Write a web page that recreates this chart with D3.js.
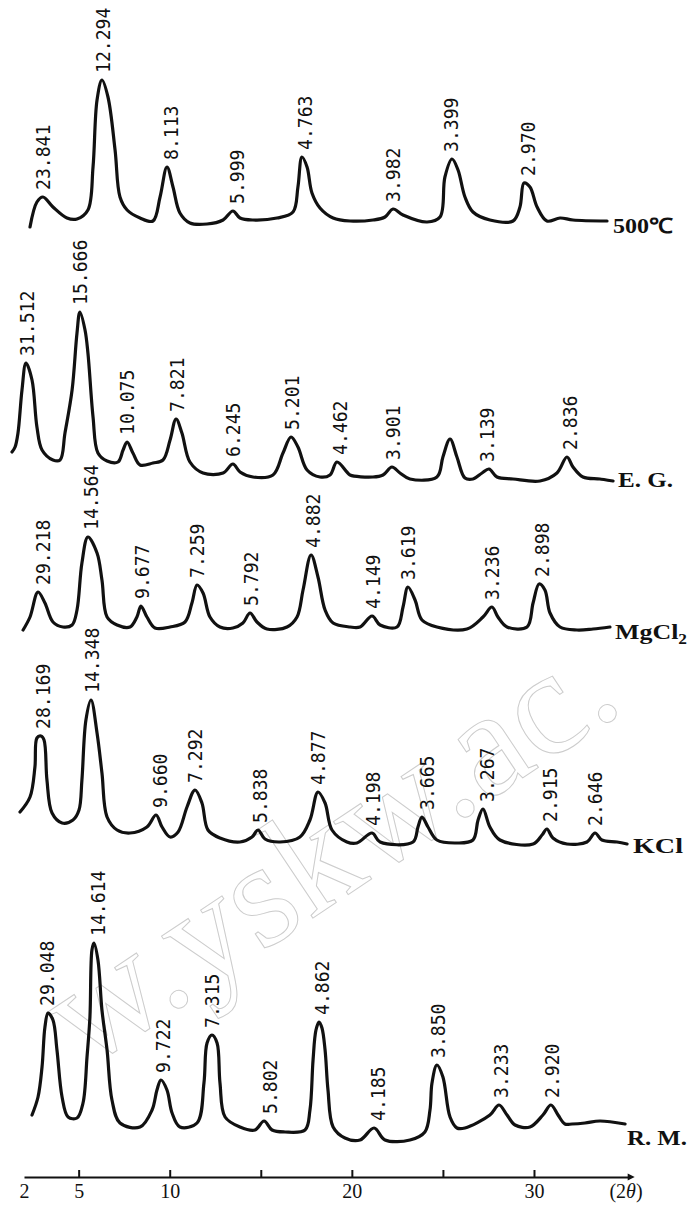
<!DOCTYPE html>
<html>
<head>
<meta charset="utf-8">
<script src="https://d3js.org/d3.v7.min.js"></script>
<style>
  body { margin: 0; background: #fff; }
  svg { display: block; }
</style>
</head>
<body>
<svg id="grafico"></svg>
<script>
// curvas de difracao: [2theta, intensidade relativa]
const curva500 = [[2.33,3],[2.71,28],[3.04,33],[3.59,23],[4.36,12],[4.91,11],[5.51,20],[5.79,63],[6.01,130],[6.28,150],[6.61,133],[7.00,80],[7.27,33],[7.66,20],[8.37,12],[9.08,9],[9.47,33],[9.85,63],[10.18,43],[10.56,17],[11.11,7],[12.05,6],[12.93,10],[13.47,19],[13.86,12],[14.57,10],[15.89,12],[16.77,18],[17.04,43],[17.26,73],[17.54,63],[17.81,37],[18.25,22],[18.97,12],[19.90,9],[21.16,10],[21.82,13],[22.26,21],[22.81,15],[24.13,8],[24.84,13],[25.11,53],[25.50,71],[25.83,60],[26.21,33],[26.65,18],[27.58,10],[28.85,9],[29.23,23],[29.45,47],[29.78,43],[30.17,23],[30.71,9],[31.43,12],[32.14,10],[34.01,9]];

const curvaEG = [[1.34,33],[1.51,38],[1.67,52],[1.89,95],[2.11,122],[2.44,105],[2.71,58],[2.99,35],[3.59,25],[3.98,25],[4.25,52],[4.64,95],[4.91,152],[5.07,173],[5.35,155],[5.51,132],[5.79,68],[6.06,32],[6.56,24],[7.16,23],[7.44,35],[7.66,43],[7.98,32],[8.37,20],[9.08,22],[9.63,25],[10.02,45],[10.35,66],[10.67,52],[11.11,23],[11.83,12],[12.93,12],[13.47,21],[13.86,13],[14.57,8],[15.67,10],[16.22,32],[16.66,48],[17.04,38],[17.54,15],[18.25,8],[18.80,10],[19.18,23],[19.73,13],[19.90,10],[21.16,8],[21.71,10],[22.20,18],[22.64,12],[23.19,6],[24.67,8],[25.00,28],[25.39,46],[25.77,28],[26.21,7],[26.65,6],[27.15,12],[27.53,16],[27.97,8],[28.85,6],[30.33,4],[31.26,12],[31.81,28],[32.14,18],[32.69,8],[33.62,6],[34.34,4]];

const curvaMgCl2 = [[1.95,5],[2.33,18],[2.77,43],[3.15,32],[3.59,13],[4.14,8],[4.64,10],[4.91,25],[5.18,72],[5.51,98],[6.01,82],[6.28,55],[6.56,18],[7.11,10],[7.82,8],[8.20,18],[8.42,29],[8.75,18],[9.19,7],[10.02,8],[10.84,13],[11.22,32],[11.50,50],[11.83,42],[12.21,18],[12.76,8],[13.47,7],[14.02,12],[14.41,22],[14.79,13],[15.34,6],[16.44,8],[16.99,18],[17.32,45],[17.76,80],[18.14,58],[18.53,25],[18.97,12],[19.90,8],[20.45,8],[21.11,19],[21.55,10],[22.48,8],[22.81,28],[23.08,48],[23.47,35],[23.85,15],[24.67,8],[26.32,6],[27.20,18],[27.69,28],[28.02,18],[28.52,8],[29.62,8],[29.95,32],[30.28,51],[30.60,45],[30.88,22],[31.43,8],[32.36,5],[33.24,6],[34.17,8]];

const curvaKCl = [[1.78,38],[2.33,53],[2.60,83],[2.71,112],[2.93,114],[3.10,110],[3.26,70],[3.54,37],[4.09,27],[4.69,30],[5.02,40],[5.18,70],[5.40,130],[5.68,150],[6.01,117],[6.28,77],[6.56,33],[7.11,20],[7.82,17],[8.75,23],[9.25,35],[9.58,23],[10.02,13],[10.46,18],[10.95,43],[11.39,60],[11.77,47],[12.10,20],[12.76,12],[13.86,8],[14.52,13],[14.85,20],[15.23,11],[16.06,8],[17.15,13],[17.70,30],[18.14,58],[18.53,47],[18.91,20],[19.73,8],[20.28,7],[21.11,17],[21.55,8],[23.36,8],[23.63,23],[23.85,33],[24.18,23],[24.67,10],[25.77,7],[26.65,10],[26.93,30],[27.20,41],[27.58,23],[28.13,10],[29.95,6],[30.44,15],[30.71,21],[31.04,12],[31.81,6],[32.91,8],[33.35,17],[33.73,10],[34.56,8],[35.11,6]];

const curvaRM = [[2.44,30],[2.77,48],[2.99,78],[3.15,118],[3.32,132],[3.59,125],[3.81,95],[4.09,48],[4.42,28],[4.91,27],[5.24,42],[5.46,88],[5.62,128],[5.73,195],[5.84,202],[6.06,185],[6.28,135],[6.56,95],[6.83,45],[7.27,22],[8.37,18],[9.03,35],[9.30,55],[9.52,65],[9.85,55],[10.13,32],[10.56,18],[11.50,22],[11.88,62],[12.05,102],[12.32,110],[12.60,102],[12.76,62],[13.04,28],[13.86,18],[14.68,15],[15.18,24],[15.62,15],[16.33,13],[17.43,15],[17.70,35],[17.87,85],[18.03,115],[18.20,123],[18.36,117],[18.53,95],[18.69,55],[18.97,18],[19.62,7],[20.45,5],[21.22,17],[21.82,5],[23.19,5],[24.01,13],[24.29,35],[24.40,62],[24.67,80],[25.00,68],[25.39,28],[25.77,17],[26.21,17],[27.58,30],[28.08,40],[28.52,30],[28.96,20],[29.78,18],[30.49,30],[30.93,40],[31.32,30],[31.70,21],[32.09,21],[32.80,22],[33.62,24],[35.00,21]];

// valores d (angstrom) marcados sobre os picos: [2theta, texto]
const rotulos500 = [[3.04,'23.841'],[6.34,'12.294'],[10.07,'8.113'],[13.69,'5.999'],[17.43,'4.763'],[22.26,'3.982'],[25.45,'3.399'],[29.67,'2.970']];
const rotulosEG = [[2.16,'31.512'],[5.07,'15.666'],[7.66,'10.075'],[10.40,'7.821'],[13.47,'6.245'],[16.71,'5.201'],[19.35,'4.462'],[22.26,'3.901'],[27.42,'3.139'],[31.98,'2.836']];
const rotulosMgCl2 = [[3.04,'29.218'],[5.68,'14.564'],[8.48,'9.677'],[11.50,'7.259'],[14.46,'5.792'],[17.87,'4.882'],[21.16,'4.149'],[23.08,'3.619'],[27.69,'3.236'],[30.44,'2.898']];
const rotulosKCl = [[3.04,'28.169'],[5.73,'14.348'],[9.47,'9.660'],[11.39,'7.292'],[14.96,'5.838'],[18.14,'4.877'],[21.16,'4.198'],[24.13,'3.665'],[27.42,'3.267'],[30.88,'2.915'],[33.35,'2.646']];
const rotulosRM = [[3.26,'29.048'],[6.06,'14.614'],[9.63,'9.722'],[12.32,'7.315'],[15.51,'5.802'],[18.36,'4.862'],[21.44,'4.185'],[24.73,'3.850'],[28.19,'3.233'],[30.99,'2.920']];

const ticksX = [2, 5, 10, 15, 20, 25, 30];
const textosTicksX = ['2', '5', '10', '', '20', '', '30'];

const largura = 691, altura = 1206;
const svg = d3.select('#grafico')
    .attr('width', largura)
    .attr('height', altura);

const fnX = d3.scaleLinear().domain([2, 35.2]).range([24, 628.7]);

// marca d'agua
svg.append('text')
    .attr('transform', 'translate(85,1070) rotate(-33.7)')
    .attr('font-family', 'Liberation Serif')
    .attr('font-size', 150)
    .attr('fill', 'none')
    .attr('stroke', '#cccccc')
    .attr('stroke-width', 1)
    .text('w.yskw.ac.');

const paineis = [
    { nome: '500℃', curva: curva500, rotulos: rotulos500, base: 230, nx: 613, ny: 226, nl: 60 },
    { nome: 'E. G.', curva: curvaEG, rotulos: rotulosEG, base: 485, nx: 618, ny: 480, nl: 55 },
    { nome: 'MgCl', sub: '2', curva: curvaMgCl2, rotulos: rotulosMgCl2, base: 635, nx: 615, ny: 632, nl: 72 },
    { nome: 'KCl', curva: curvaKCl, rotulos: rotulosKCl, base: 850, nx: 633, ny: 846, nl: 50 },
    { nome: 'R. M.', curva: curvaRM, rotulos: rotulosRM, base: 1145, nx: 627, ny: 1138, nl: 60 }
];

paineis.forEach((p) => {
    const fnY = d3.scaleLinear().domain([0, 200]).range([p.base, p.base - 200]);
    const linha = d3.line()
        .x((d) => fnX(d[0]))
        .y((d) => fnY(d[1]))
        .curve(d3.curveCatmullRom.alpha(0.5));

    const g = svg.append('g');
    g.append('path')
        .datum(p.curva)
        .attr('d', linha)
        .attr('fill', 'none')
        .attr('stroke', '#111')
        .attr('stroke-width', 3.2)
        .attr('stroke-linejoin', 'round')
        .attr('stroke-linecap', 'round');

    g.selectAll('.rotulo')
        .data(p.rotulos)
        .enter()
        .append('text')
        .classed('rotulo', true)
        .attr('transform', (d) => {
            const pico = d3.max(p.curva.filter((c) => Math.abs(c[0] - d[0]) < 0.45), (c) => c[1]);
            return 'translate(' + fnX(d[0]) + ',' + (fnY(pico) - 7) + ') rotate(-90)';
        })
        .attr('dy', '0.36em')
        .attr('font-family', 'DejaVu Sans Mono')
        .attr('font-size', 19)
        .attr('textLength', (d) => d[1].length * 10.9)
        .attr('lengthAdjust', 'spacingAndGlyphs')
        .attr('fill', '#111')
        .text((d) => d[1]);

    const nome = g.append('text')
        .attr('x', p.nx)
        .attr('y', p.ny)
        .attr('dy', '0.35em')
        .attr('font-family', 'Liberation Serif')
        .attr('font-weight', 'bold')
        .attr('font-size', 21)
        .attr('fill', '#111')
        .attr('textLength', p.nl)
        .attr('lengthAdjust', 'spacingAndGlyphs')
        .text(p.nome);
    if (p.sub) {
        nome.append('tspan')
            .attr('font-size', 14)
            .attr('dy', '0.3em')
            .text(p.sub);
    }
});

// eixo 2theta
const eixoX = d3.axisBottom(fnX)
    .tickValues(ticksX)
    .tickSize(-7)
    .tickSizeOuter(0)
    .tickPadding(7)
    .tickFormat((d, i) => textosTicksX[i]);

const gEixo = svg.append('g')
    .attr('transform', 'translate(0,1177)')
    .call(eixoX);

gEixo.select('.domain').attr('stroke', '#111').attr('stroke-width', 2.2);
gEixo.selectAll('.tick line').attr('stroke', '#111').attr('stroke-width', 2);
gEixo.selectAll('.tick').filter((d) => d === 2).select('line').remove();
gEixo.selectAll('.tick text')
    .attr('font-family', 'Liberation Serif')
    .attr('font-size', 20)
    .attr('fill', '#111');

gEixo.append('path')
    .attr('d', 'M' + (fnX(35.2) - 1) + ',-3.5L' + (fnX(35.2) + 6) + ',0L' + (fnX(35.2) - 1) + ',3.5Z')
    .attr('fill', '#111');

gEixo.append('text')
    .attr('x', 626)
    .attr('y', 7)
    .attr('dy', '0.71em')
    .attr('font-family', 'Liberation Serif')
    .attr('font-size', 20)
    .attr('fill', '#111')
    .html('(2<tspan font-style="italic">θ</tspan>)');
</script>
</body>
</html>
